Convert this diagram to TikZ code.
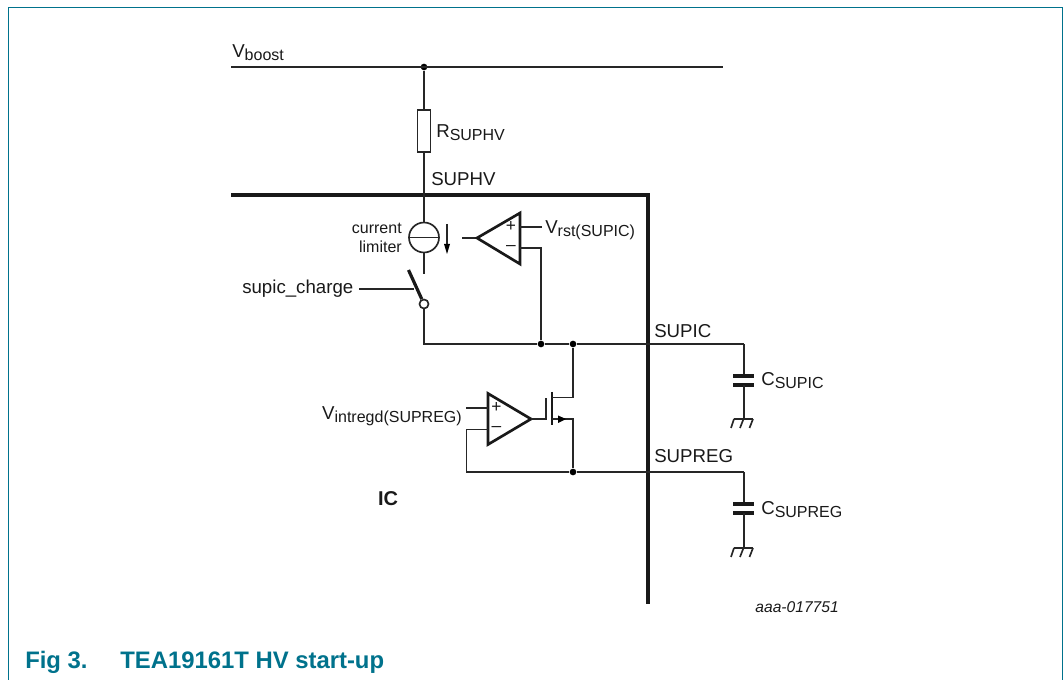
\documentclass[tikz,border=0pt]{standalone}
\usepackage{fontspec}
\setmainfont{Liberation Sans}
\definecolor{teal1}{HTML}{00728C}
\newcommand{\Sb}[1]{\raisebox{-0.3ex}{\fontsize{12pt}{14pt}\selectfont #1}}
\tikzset{
  x=0.75pt,y=-0.75pt,
  wire/.style={line width=1.25pt,black!85},
  thick1/.style={line width=2.4pt,black!90},
  opamp/.style={line width=2pt,black!90,line join=miter},
  plate/.style={line width=2.6pt,black!90},
  dotj/.style={circle,fill=black,inner sep=0pt,minimum size=5pt},
  lbl/.style={inner sep=0pt,font=\fontsize{14pt}{16pt}\selectfont,text=black!90},
  small/.style={inner sep=0pt,font=\fontsize{12pt}{14pt}\selectfont,text=black!90,align=right},
  sign/.style={inner sep=0pt,font=\fontsize{13pt}{15pt}\selectfont,text=black!90},
  capt/.style={anchor=base west,inner sep=0pt,text=teal1,font=\fontsize{17.9pt}{20pt}\selectfont\bfseries}
}
\begin{document}
\begin{tikzpicture}
\useasboundingbox (0,0) rectangle (1064,680);
% frame
\draw[teal1,line width=1.1pt] (8.5,680) -- (8.5,7.5) -- (1062.5,7.5) -- (1062.5,680);
% rail
\coordinate (bl) at (231,67);
\coordinate (br) at (723,67);
\node[dotj] (jtop) at (424,67) {};
\draw[wire] (bl) -- (br);
\node[draw,wire,fill=white,minimum width=9.75pt,minimum height=31.5pt,inner sep=0pt,rectangle] (rs) at (424,131) {};
\draw[wire] (jtop) -- (rs.north);
% IC outline
\coordinate (ica) at (231,195);
\coordinate (icb) at (648,195);
\coordinate (icc) at (648,604);
\draw[thick1,line join=miter] (ica) -- (icb) -- (icc);
% current source
\node[circle,draw,wire,minimum size=22.5pt,inner sep=0pt] (cs) at (424,237.5) {};
\draw[wire] (rs.south) -- (cs.north);
\draw[wire] (cs.west) -- (cs.east);
\coordinate (csb) at (424,274);
\draw[wire] (cs.south) -- (csb);
% current arrow
\coordinate (ia) at (447,224);
\coordinate (ib) at (447,246);
\draw[wire] (ia) -- (ib);
\fill[black] (444,244) -- (450,244) -- (447,254) -- cycle;
% comparator
\coordinate (c1a) at (520,213);
\coordinate (c1b) at (520,264);
\coordinate (c1c) at (477,238);
\coordinate (c1o) at (462,238);
\draw[wire] (c1o) -- (c1c);
\draw[opamp] (c1a) -- (c1b) -- (c1c) -- cycle;
\node[sign] (c1p) at (511,227) {+};
\node[sign] (c1m) at (511,248) {–};
\coordinate (c1pe) at (542,227);
\draw[wire] (c1a |- c1pe) -- (c1pe);
\node[lbl,anchor=base west] (vrst) at (545,234) {V\Sb{rst(SUPIC)}};
% switch
\node[circle,draw,wire,fill=white,minimum size=6.8pt,inner sep=0pt] (sw) at (424,304) {};
\coordinate (swt) at (408.5,270);
\draw[line width=2.4pt,black!90] (swt) -- (sw);
\node[lbl,anchor=base west] (supch) at (242,294) {supic\_charge};
\coordinate (swc) at (414,289);
\draw[wire] (359,289) -- (swc);
% nodes on SUPIC line
\node[dotj] (j1) at (541,344) {};
\node[dotj] (j2) at (573,344) {};
\coordinate (cup) at (744,344);
\draw[wire] (sw.south) |- (j1) -- (j2) -- (cup);
\draw[wire] (j1) -- (541,248) -- (520,248);
% cap SUPIC
\coordinate (c1t) at (744,376);
\coordinate (c1d) at (744,385);
\draw[wire] (cup) -- (c1t);
\draw[plate] (733,376) -- (754,376);
\draw[plate] (733,385) -- (754,385);
\coordinate (g1) at (744,419);
\draw[wire] (c1d) -- (g1);
\draw[wire] (734,419) -- (753,419);
\draw[wire] (734,419) -- (731,428) (743.5,419) -- (740,428) (753,419) -- (749.5,428);
% opamp 2
\coordinate (o2a) at (488,393.5);
\coordinate (o2b) at (488,444.5);
\coordinate (o2c) at (531,419);
\draw[opamp] (o2a) -- (o2b) -- (o2c) -- cycle;
\node[sign] (o2p) at (496.5,408) {+};
\node[sign] (o2m) at (496.5,429.5) {–};
\draw[wire] (466,408) -- (488,408);
\node[lbl,anchor=base east] (vint) at (462,420) {V\Sb{intregd(SUPREG)}};
% MOSFET
\draw[wire] (o2c) -- (546,419) -- (546,398);
\draw[line width=2.2pt,black!90] (552,392) -- (552,425);
\node[dotj] (j3) at (573,472) {};
\draw[wire] (552,397.5) -- (573,397.5) -- (j2);
\draw[wire] (552,419) -- (573,419) -- (j3);
\fill[black] (558,415.5) -- (558,423) -- (566,419) -- cycle;
% SUPREG line
\coordinate (cre) at (744,472);
\draw[wire] (488,429.5) -- (466.5,429.5) -- (466.5,472) -- (j3) -- (cre);
% cap SUPREG
\draw[wire] (cre) -- (744,504);
\draw[plate] (733,504) -- (754,504);
\draw[plate] (733,513) -- (754,513);
\draw[wire] (744,513) -- (744,548);
\draw[wire] (734,548) -- (753,548);
\draw[wire] (734,548) -- (731,557) (743.5,548) -- (740,557) (753,548) -- (749.5,557);
% labels
\node[lbl,anchor=base west] (vb) at (232,58) {V\Sb{boost}};
\node[lbl,anchor=base west] (rl) at (436,138) {R\Sb{SUPHV}};
\node[lbl,anchor=base west] (sv) at (431,186) {SUPHV};
\node[small,anchor=base east] (cl1) at (402,233.5) {current};
\node[small,anchor=base east] (cl2) at (402,252.5) {limiter};
\node[lbl,anchor=base west] (sc) at (654,338) {SUPIC};
\node[lbl,anchor=base west] (sr) at (654,463) {SUPREG};
\node[lbl,anchor=base west] (cs1) at (761,386) {C\Sb{SUPIC}};
\node[lbl,anchor=base west] (cs2) at (761,514.5) {C\Sb{SUPREG}};
\node[lbl,anchor=base,font=\fontsize{15pt}{17pt}\selectfont\bfseries] (ic) at (388,506) {IC};
\node[anchor=base east,inner sep=0pt,font=\fontsize{11.7pt}{13pt}\selectfont\itshape,text=black!90] (ref) at (839,612) {aaa-017751};
\node[capt] (fg) at (25,668.5) {Fig 3.};
\node[capt] (ft) at (120,668.5) {TEA19161T HV start-up};
\end{tikzpicture}
\end{document}
